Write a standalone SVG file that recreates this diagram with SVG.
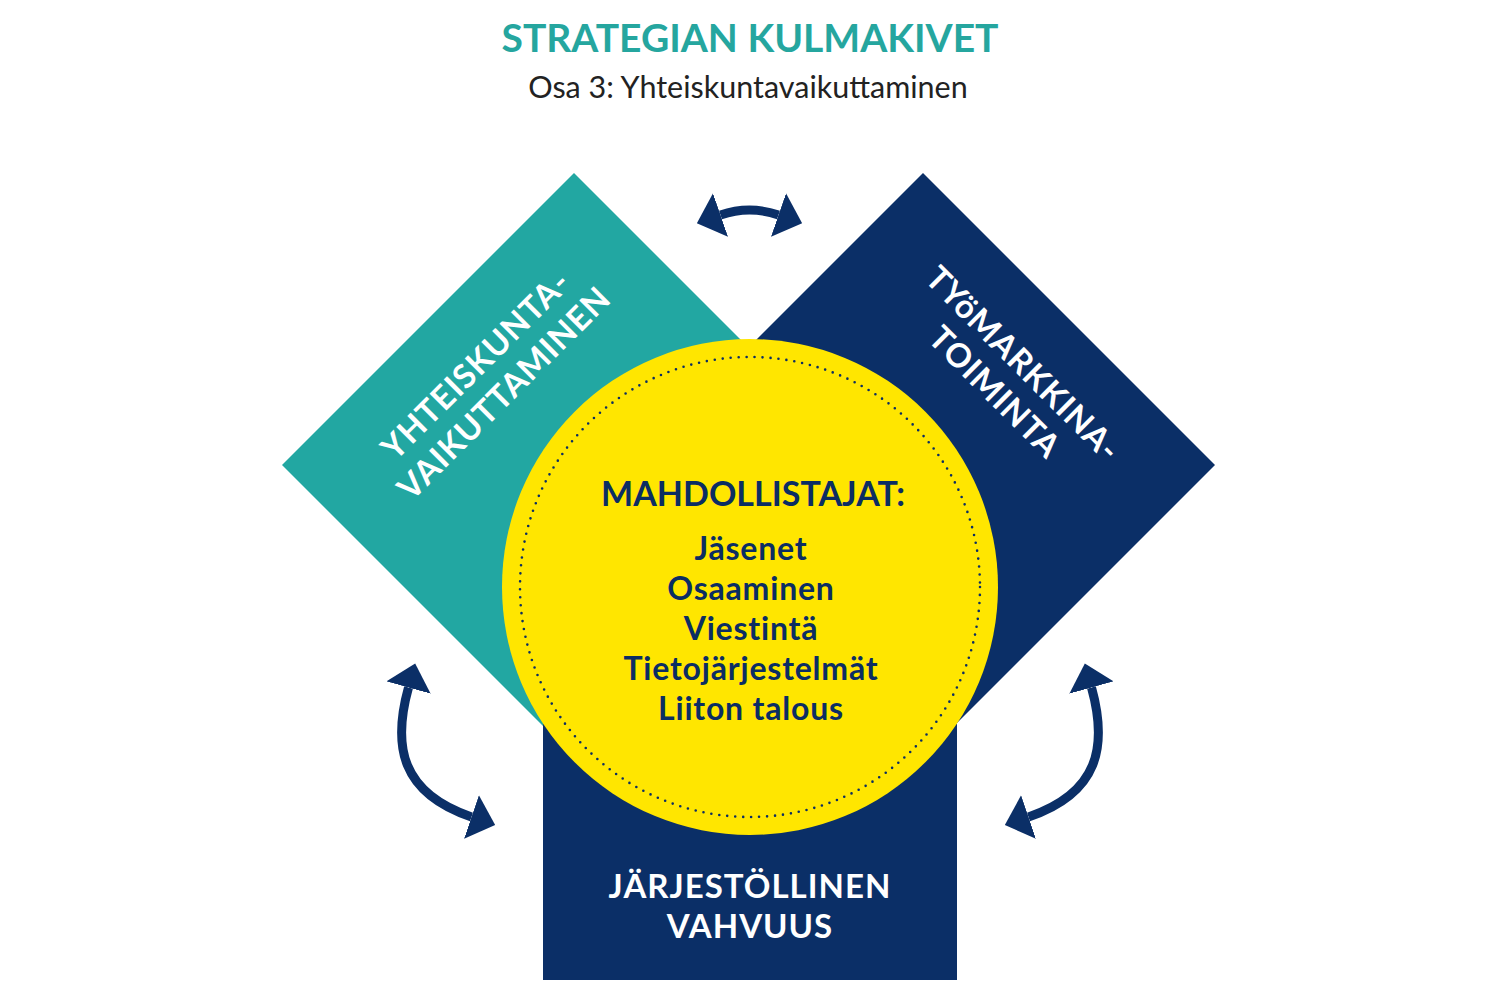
<svg xmlns="http://www.w3.org/2000/svg" width="1500" height="1000" viewBox="0 0 1500 1000">
  <style>
    .title { font-family: Lato, "Open Sans", sans-serif; font-weight: 700; font-size: 39px; fill: #25a69f; text-anchor: middle; }
    .subtitle { font-family: Lato, "Open Sans", sans-serif; font-weight: 400; font-size: 30.5px; fill: #222222; text-anchor: middle; }
    .label { font-family: Lato, "Open Sans", sans-serif; font-weight: 700; font-size: 33px; fill: #ffffff; text-anchor: middle; letter-spacing: 1px; }
    .head { font-family: Lato, "Open Sans", sans-serif; font-weight: 700; font-size: 34px; fill: #0b2d63; text-anchor: middle; }
    .item { font-family: Lato, "Open Sans", sans-serif; font-weight: 700; font-size: 32px; fill: #0b2d63; text-anchor: middle; letter-spacing: 0.8px; }
    .shaft { fill: none; stroke: #0b2f67; stroke-width: 9; marker-start: url(#head); marker-end: url(#head); }
  </style>
  <defs>
    <marker id="head" viewBox="0 -23 25 46" refX="0" refY="0" markerWidth="25" markerHeight="46" markerUnits="userSpaceOnUse" orient="auto-start-reverse">
      <path d="M0,-23 L25,0 L0,23 Z" fill="#0b2f67"/>
    </marker>
  </defs>
  <rect width="1500" height="1000" fill="#ffffff"/>

  <g id="header">
    <text class="title" x="750" y="52">STRATEGIAN KULMAKIVET</text>
    <text class="subtitle" x="748" y="98">Osa 3: Yhteiskuntavaikuttaminen</text>
  </g>

  <g id="node-yhteiskunta">
    <polygon points="574,173 866,465 574,757 282,465" fill="#22a7a2"/>
    <g transform="translate(490,379) rotate(-45)">
      <text class="label" x="0" y="-8.5">YHTEISKUNTA-</text>
      <text class="label" x="0" y="31.5">VAIKUTTAMINEN</text>
    </g>
  </g>

  <g id="node-tyomarkkina">
    <polygon points="923,173 1215,465 923,757 631,465" fill="#0b2f67"/>
    <g transform="translate(1009,378) rotate(45)">
      <text class="label" x="0" y="-8.5">TYöMARKKINA-</text>
      <text class="label" x="0" y="31.5">TOIMINTA</text>
    </g>
  </g>

  <g id="node-jarjestollinen">
    <rect x="543" y="724" width="414" height="256" fill="#0b2f67"/>
    <text class="label" x="750" y="898">JÄRJESTÖLLINEN</text>
    <text class="label" x="750" y="938">VAHVUUS</text>
  </g>

  <g id="node-mahdollistajat">
    <circle cx="750" cy="587" r="248" fill="#ffe600"/>
    <circle cx="750" cy="587" r="230" fill="none" stroke="#0b2d63" stroke-width="2.6" stroke-linecap="round" stroke-dasharray="0 8"/>
    <text class="head" x="753" y="506">MAHDOLLISTAJAT:</text>
    <text class="item" x="751" y="560">Jäsenet</text>
    <text class="item" x="751" y="600">Osaaminen</text>
    <text class="item" x="751" y="640">Viestintä</text>
    <text class="item" x="751" y="680">Tietojärjestelmät</text>
    <text class="item" x="751" y="720">Liiton talous</text>
  </g>

  <g id="connectors">
    <path class="shaft" d="M720.5,215 Q749.5,205 778.5,215"/>
    <path class="shaft" d="M408.5,687.5 C392.25,746.25 401,793 471.5,817"/>
    <path class="shaft" d="M1091.5,687.5 C1107.75,746.25 1099,793 1028.5,817"/>
  </g>
</svg>
